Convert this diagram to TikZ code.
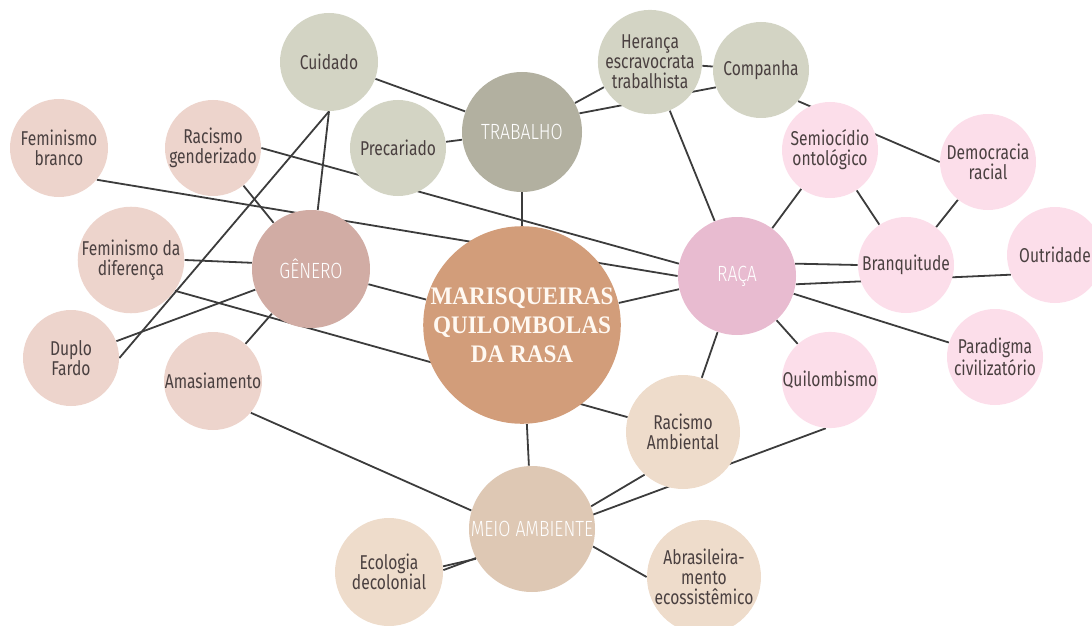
\documentclass[tikz,border=0pt]{standalone}
\usepackage{fontspec}
\setmainfont{Fira Sans}
\newfontfamily\labelfont[FakeStretch=0.78]{Fira Sans}
\newfontfamily\catfont[FakeStretch=0.8]{Fira Sans Light}
\newfontfamily\titlefont[FakeStretch=0.92]{Liberation Serif}
\usetikzlibrary{backgrounds}

\definecolor{trabsoft}{HTML}{D3D4C4}
\definecolor{trabhub}{HTML}{B2B0A0}
\definecolor{gensoft}{HTML}{EDD4CC}
\definecolor{genhub}{HTML}{D1ACA4}
\definecolor{racsoft}{HTML}{FCDEEA}
\definecolor{rachub}{HTML}{E8BBD0}
\definecolor{envsoft}{HTML}{EEDCCB}
\definecolor{envhub}{HTML}{DEC8B4}
\definecolor{corecol}{HTML}{D29D7A}
\definecolor{inktext}{HTML}{4A4040}
\definecolor{linegray}{HTML}{3C3C3C}

\begin{document}
\begin{tikzpicture}[x=0.5pt, y=-0.5pt,
    every node/.style={circle, inner sep=0pt, align=center},
    sub/.style={minimum size=48pt, font=\labelfont\fontsize{10}{10}\selectfont, text=inktext},
    hub/.style={minimum size=59pt, font=\catfont\fontsize{11}{11}\selectfont, text=white},
    link/.style={draw=linegray, line width=0.9pt}]
  \useasboundingbox (0,0) rectangle (1092,626);

  % centre
  \node[fill=corecol, minimum size=97pt, text=white!95!orange,
    font=\titlefont\bfseries\fontsize{12.6}{14.5}\selectfont] (core) at (522,325)
    {MARISQUEIRAS\\QUILOMBOLAS\\DA RASA};

  % trabalho
  \node[hub, fill=trabhub, minimum size=60pt] (trabalho) at (522,132) {TRABALHO};
  \node[sub, fill=trabsoft, minimum size=49pt] (cuidado) at (329,62) {Cuidado};
  \node[sub, fill=trabsoft] (precariado) at (398,148) {Precariado};
  \node[sub, fill=trabsoft] (heranca) at (650,62) {Herança\\escravocrata\\trabalhista};
  \node[sub, fill=trabsoft] (companha) at (761,70) {Companha};

  % genero
  \node[hub, fill=genhub] (genero) at (311,269) {GÊNERO};
  \node[sub, fill=gensoft, minimum size=49pt] (fembranco) at (59,148) {Feminismo\\branco};
  \node[sub, fill=gensoft] (racgen) at (213,148) {Racismo\\genderizado};
  \node[sub, fill=gensoft, minimum size=52pt] (femdif) at (131,260) {Feminismo da\\diferença};
  \node[sub, fill=gensoft] (duplo) at (71,358) {Duplo\\Fardo};
  \node[sub, fill=gensoft, minimum size=49pt] (amas) at (213,381) {Amasiamento};

  % raca
  \node[hub, fill=rachub] (raca) at (737,276) {RAÇA};
  \node[sub, fill=racsoft] (semio) at (830,150) {Semiocídio\\ontológico};
  \node[sub, fill=racsoft] (democ) at (988,162) {Democracia\\racial};
  \node[sub, fill=racsoft] (branq) at (906,265) {Branquitude};
  \node[sub, fill=racsoft] (outri) at (1055,255) {Outridade};
  \node[sub, fill=racsoft] (parad) at (995,357) {Paradigma\\civilizatório};
  \node[sub, fill=racsoft] (quilo) at (830,380) {Quilombismo};

  % meio ambiente
  \node[hub, fill=envhub, minimum size=63pt] (meio) at (532,529) {MEIO AMBIENTE};
  \node[sub, fill=envsoft, minimum size=57pt] (racamb) at (683,432) {Racismo\\Ambiental};
  \node[sub, fill=envsoft, minimum size=54pt] (eco) at (389,572) {Ecologia\\decolonial};
  \node[sub, fill=envsoft, minimum size=57pt] (abras) at (704,577) {Abrasileira-\\mento\\ecossistêmico};

  \begin{pgfonlayer}{background}
    \draw[link] (trabalho) -- (core);
    \draw[link] (cuidado) -- (trabalho);
    \draw[link] (precariado) -- (trabalho);
    \draw[link] (heranca) -- (trabalho);
    \draw[link] (companha.201) -- (trabalho.18);
    \draw[link] (heranca) -- (companha);
    \draw[link] (heranca) -- (raca);
    \draw[link] (companha.-40) -- (democ.west);
    \draw[link] (cuidado.south) -- (genero);
    \draw[link] (cuidado.south) -- (duplo.east);

    \draw[link] (genero) -- (core);
    \draw[link] (racgen) -- (genero);
    \draw[link] (racgen.east) -- (raca.168);
    \draw[link] (fembranco.-40) -- (raca.west);
    \draw[link] (femdif.east) -- (genero.174);
    \draw[link] (femdif.-35) -- (racamb.165);
    \draw[link] (duplo) -- (genero);
    \draw[link] (genero) -- (amas);
    \draw[link] (amas.-40) -- (meio.163);

    \draw[link] (core) -- (raca);
    \draw[link] (semio) -- (raca);
    \draw[link] (semio) -- (branq);
    \draw[link] (democ) -- (branq);
    \draw[link] (raca.12) -- (branq.west);
    \draw[link] (raca.-8) -- (outri.204);
    \draw[link] (raca) -- (parad);
    \draw[link] (raca) -- (quilo);
    \draw[link] (raca) -- (racamb);

    \draw[link] (core) -- (meio);
    \draw[link] (racamb.228) -- (meio.21);
    \draw[link] (eco.2) -- (quilo.265);
    \draw[link] (eco.6) -- (meio.208);
    \draw[link] (meio.-16) -- (abras.west);
  \end{pgfonlayer}
\end{tikzpicture}
\end{document}
